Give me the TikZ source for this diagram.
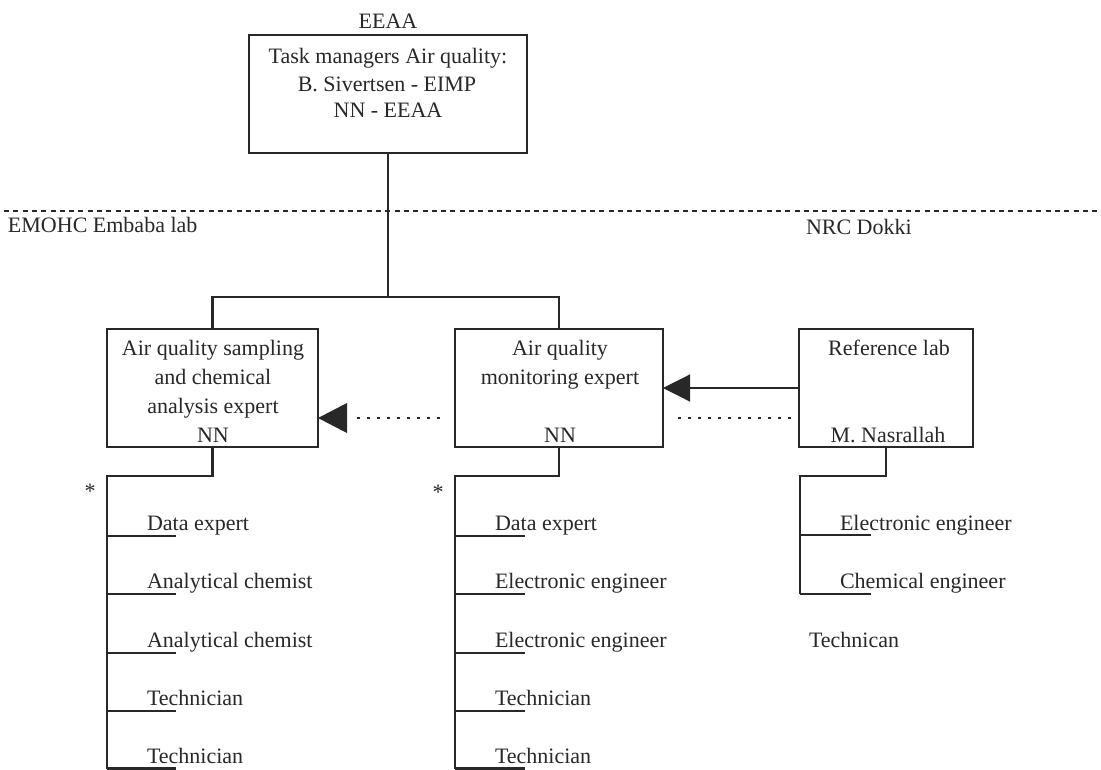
\documentclass[tikz,border=0pt]{standalone}
\usepackage{fontspec}
\setmainfont{Liberation Serif}
\usetikzlibrary{arrows.meta,calc}
\definecolor{ink}{RGB}{40,40,40}
\tikzset{
  txt/.style={font=\fontsize{22}{26}\selectfont, text=ink, inner sep=0pt, outer sep=0pt},
  lbl/.style={txt, anchor=base},
  item/.style={txt, anchor=base west},
  orgbox/.style={draw=ink, line width=2.2pt, rectangle, inner sep=0pt, outer sep=0pt},
  wire/.style={draw=ink, line width=2.4pt},
  fineline/.style={draw=ink, line width=1.2pt},
  dotline/.style={draw=ink, line width=2.8pt, dash pattern=on 3pt off 7pt},
  border/.style={draw=ink, line width=2.6pt, dash pattern=on 5pt off 4.3pt},
}
\begin{document}
\begin{tikzpicture}[x=1pt,y=-1pt]
\useasboundingbox[fill=white] (0,0) rectangle (1101,769);

% site boundary
\coordinate (bl) at (4,211);
\coordinate (br) at (1100,211);
\draw[border] (bl) -- (br);
\node[item] (site1) at (8,232) {EMOHC Embaba lab};
\node[item] (site2) at (806,234) {NRC Dokki};

% management box
\node[orgbox, minimum width=278pt, minimum height=118pt] (top) at (388,94) {};
\node[lbl] (topcap) at (388,28) {EEAA};
\node[lbl] (top1) at (388,63) {Task managers Air quality:};
\node[lbl] (top2) at (387,91) {B. Sivertsen - EIMP};
\node[lbl] (top3) at (388,117) {NN - EEAA};

% expert boxes
\node[orgbox, minimum width=211pt, minimum height=118pt] (lbox) at (212.5,388) {};
\node[lbl] (l1) at (213,355) {Air quality sampling};
\node[lbl] (l2) at (213,384) {and chemical};
\node[lbl] (l3) at (213,413) {analysis expert};
\node[lbl] (l4) at (213,442) {NN};

\node[orgbox, minimum width=208pt, minimum height=118pt] (mbox) at (559,388) {};
\node[lbl] (m1) at (560,355) {Air quality};
\node[lbl] (m2) at (560,384) {monitoring expert};
\node[lbl] (m4) at (560,442) {NN};

\node[orgbox, minimum width=174pt, minimum height=118pt] (rbox) at (886,388) {};
\node[lbl] (r1) at (889,355) {Reference lab};
\node[lbl] (r4) at (888,442) {M. Nasrallah};

% hierarchy
\coordinate (hub) at (388,297);
\draw[wire] (top.south) -- (hub);
\draw[wire] (lbox.north) -- ++(0,-32) -| (mbox.north);

% cooperation links
\draw[fineline, -{Triangle[length=27pt,width=27pt]}] (rbox.west) -- (mbox.east);
\coordinate (d1a) at (440,418);
\coordinate (d1b) at (353,418);
\draw[dotline] (d1a) -- (d1b);
\fill[ink] ($(lbox.east)+(0,30)$) -- ++(29,-15) -- ++(0,30) -- cycle;
\coordinate (d2a) at (678,418);
\draw[dotline] (d2a) -- ($(rbox.west)+(0,30)$);

% staff lists
\coordinate (lrail) at (107,768.5);
\draw[wire] (lbox.south) -- ++(0,29) -| (lrail);
\foreach \y [count=\i] in {536,594,653,711,768.5} {
  \coordinate (lb\i) at (107,\y);
  \draw[wire] (lb\i) -- ++(69,0);
}
\node[item] (li1) at (147,530) {Data expert};
\node[item] (li2) at (147,588) {Analytical chemist};
\node[item] (li3) at (147,647) {Analytical chemist};
\node[item] (li4) at (147,705) {Technician};
\node[item] (li5) at (147,763) {Technician};
\node[lbl] (last1) at (90,498) {*};

\coordinate (mrail) at (455,768.5);
\draw[wire] (mbox.south) -- ++(0,29) -| (mrail);
\foreach \y [count=\i] in {536,594,653,711,768.5} {
  \coordinate (mb\i) at (455,\y);
  \draw[wire] (mb\i) -- ++(70,0);
}
\node[item] (mi1) at (495,530) {Data expert};
\node[item] (mi2) at (495,588) {Electronic engineer};
\node[item] (mi3) at (495,647) {Electronic engineer};
\node[item] (mi4) at (495,705) {Technician};
\node[item] (mi5) at (495,763) {Technician};
\node[lbl] (last2) at (438,499) {*};

\coordinate (rrail) at (800,594);
\draw[wire] (rbox.south) -- ++(0,29) -| (rrail);
\foreach \y [count=\i] in {535,594} {
  \coordinate (rb\i) at (800,\y);
  \draw[wire] (rb\i) -- ++(71,0);
}
\node[item] (ri1) at (840,530) {Electronic engineer};
\node[item] (ri2) at (840,588) {Chemical engineer};
\node[item] (ri3) at (809,647) {Technican};
\end{tikzpicture}
\end{document}
